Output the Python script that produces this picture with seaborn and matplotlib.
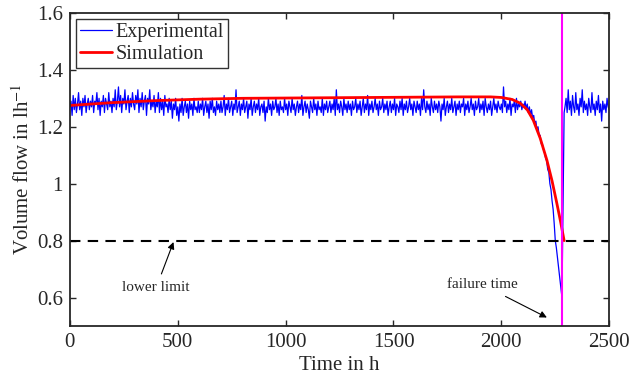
import numpy as np
import seaborn as sns
import matplotlib.pyplot as plt
from matplotlib.ticker import FuncFormatter

# experimental volume flow, one value every 5 h starting at 0 h
exp_steady = [
    1.27, 1.29, 1.24, 1.31, 1.26, 1.30, 1.25, 1.28, 1.32, 1.26, 1.29, 1.24, 1.30, 1.27, 1.31, 1.25, 1.28, 1.30, 1.26, 1.29,
    1.27, 1.31, 1.25, 1.29, 1.28, 1.32, 1.26, 1.30, 1.24, 1.29, 1.27, 1.31, 1.25, 1.30, 1.28, 1.26, 1.32, 1.27, 1.29, 1.25,
    1.30, 1.27, 1.33, 1.26, 1.29, 1.34, 1.27, 1.31, 1.25, 1.30, 1.28, 1.33, 1.26, 1.29, 1.31, 1.25, 1.30, 1.27, 1.32, 1.28,
    1.26, 1.31, 1.28, 1.33, 1.25, 1.30, 1.27, 1.32, 1.26, 1.29, 1.31, 1.24, 1.30, 1.28, 1.33, 1.26, 1.29, 1.27, 1.31, 1.25,
    1.29, 1.27, 1.32, 1.25, 1.30, 1.26, 1.29, 1.24, 1.31, 1.27, 1.28, 1.25, 1.30, 1.26, 1.29, 1.23, 1.28, 1.26, 1.30, 1.24,
    1.27, 1.22, 1.28, 1.25, 1.30, 1.24, 1.27, 1.29, 1.25, 1.28, 1.23, 1.29, 1.26, 1.28, 1.24, 1.30, 1.26, 1.27, 1.25, 1.29,
    1.25, 1.28, 1.26, 1.30, 1.24, 1.27, 1.29, 1.25, 1.28, 1.23, 1.29, 1.26, 1.30, 1.25, 1.27, 1.24, 1.29, 1.26, 1.28, 1.25,
    1.29, 1.25, 1.27, 1.31, 1.24, 1.28, 1.26, 1.30, 1.25, 1.27, 1.29, 1.24, 1.28, 1.26, 1.33, 1.25, 1.27, 1.29, 1.24, 1.28,
    1.26, 1.30, 1.25, 1.27, 1.29, 1.23, 1.28, 1.26, 1.30, 1.24, 1.27, 1.29, 1.25, 1.28, 1.26, 1.30, 1.24, 1.27, 1.28, 1.25,
    1.29, 1.22, 1.27, 1.25, 1.30, 1.26, 1.28, 1.24, 1.29, 1.26, 1.27, 1.30, 1.25, 1.28, 1.24, 1.29, 1.26, 1.27, 1.25, 1.30,
    1.26, 1.28, 1.24, 1.29, 1.27, 1.25, 1.30, 1.26, 1.28, 1.24, 1.27, 1.29, 1.25, 1.28, 1.26, 1.31, 1.24, 1.27, 1.29, 1.25,
    1.28, 1.26, 1.23, 1.29, 1.27, 1.25, 1.30, 1.26, 1.28, 1.24, 1.29, 1.26, 1.27, 1.25, 1.30, 1.24, 1.28, 1.26, 1.29, 1.25,
    1.27, 1.29, 1.25, 1.28, 1.26, 1.30, 1.24, 1.33, 1.26, 1.28, 1.25, 1.29, 1.27, 1.24, 1.30, 1.26, 1.28, 1.25, 1.29, 1.26,
    1.28, 1.24, 1.29, 1.26, 1.27, 1.30, 1.25, 1.28, 1.26, 1.29, 1.24, 1.27, 1.30, 1.25, 1.28, 1.26, 1.31, 1.24, 1.28, 1.26,
    1.29, 1.25, 1.27, 1.30, 1.26, 1.28, 1.24, 1.29, 1.26, 1.27, 1.30, 1.25, 1.28, 1.26, 1.29, 1.24, 1.27, 1.29, 1.25, 1.28,
    1.26, 1.30, 1.24, 1.28, 1.27, 1.25, 1.29, 1.26, 1.30, 1.24, 1.28, 1.26, 1.29, 1.25, 1.27, 1.30, 1.26, 1.28, 1.24, 1.29,
    1.27, 1.25, 1.29, 1.26, 1.28, 1.24, 1.30, 1.26, 1.33, 1.27, 1.25, 1.29, 1.26, 1.28, 1.24, 1.30, 1.27, 1.25, 1.29, 1.26,
    1.28, 1.25, 1.29, 1.27, 1.22, 1.28, 1.26, 1.30, 1.24, 1.27, 1.29, 1.25, 1.28, 1.26, 1.30, 1.25, 1.27, 1.29, 1.24, 1.28,
    1.26, 1.29, 1.25, 1.28, 1.27, 1.30, 1.24, 1.28, 1.26, 1.29, 1.25, 1.27, 1.30, 1.26, 1.28, 1.24, 1.29, 1.26, 1.27, 1.30,
    1.25, 1.28, 1.26, 1.29, 1.24, 1.30, 1.27, 1.25, 1.28, 1.26, 1.29, 1.24, 1.27, 1.30, 1.26, 1.28, 1.25, 1.29, 1.27, 1.26,
    1.28, 1.25, 1.34, 1.27, 1.29, 1.25, 1.28, 1.26, 1.30, 1.24, 1.28, 1.27, 1.29, 1.25, 1.30, 1.26, 1.28, 1.27, 1.29, 1.26,
    1.28, 1.27, 1.29, 1.26, 1.28, 1.25, 1.27, 1.24, 1.26, 1.23, 1.24, 1.21, 1.22, 1.19, 1.20, 1.17, 1.17, 1.14, 1.14, 1.12,
    1.11, 1.09, 1.08, 1.05, 1.04, 1.00, 0.98, 0.94, 0.91, 0.86,
]
# drop below the limit, failure and restart
fail_t = [2250, 2255, 2281, 2291]
fail_v = [0.80, 0.775, 0.60, 1.25]
# after restart, one value every 5 h from 2295 h to 2500 h
exp_after = [
    1.27, 1.30, 1.25, 1.33, 1.26, 1.29, 1.24, 1.31, 1.27, 1.25,
    1.32, 1.26, 1.28, 1.24, 1.30, 1.27, 1.33, 1.25, 1.29, 1.26,
    1.28, 1.24, 1.30, 1.27, 1.25, 1.32, 1.26, 1.28, 1.24, 1.29,
    1.26, 1.31, 1.25, 1.28, 1.22, 1.29, 1.26, 1.28, 1.25, 1.30,
    1.27, 1.26,
]

sim_t = [0, 200, 400, 600, 800, 1000, 1200, 1400, 1600, 1800, 1950, 2000,
         2050, 2087, 2120, 2148, 2180, 2211, 2235, 2257, 2275, 2291]
sim_v = [1.275, 1.285, 1.292, 1.297, 1.300, 1.301, 1.302, 1.303, 1.304, 1.305,
         1.305, 1.303, 1.296, 1.283, 1.26, 1.223, 1.16, 1.083, 1.01, 0.932,
         0.865, 0.80]

lower_limit = 0.8
failure_time = 2280

exp_t = (list(np.arange(len(exp_steady)) * 5) + fail_t
         + list(2295 + np.arange(len(exp_after)) * 5))
exp_v = exp_steady + fail_v + exp_after

sns.set_style("ticks")
plt.rcParams['font.family'] = ['Liberation Serif', 'DejaVu Serif']
plt.rcParams['mathtext.fontset'] = 'stix'

fig = plt.figure(figsize=(6.3, 3.8), dpi=100)
ax = fig.add_axes([0.111, 0.142, 0.856, 0.824])

sns.lineplot(x=exp_t, y=exp_v, ax=ax, color='#0000ff', lw=0.9,
             estimator=None, sort=False, label='Experimental')
sns.lineplot(x=sim_t, y=sim_v, ax=ax, color='#ff0000', lw=2,
             estimator=None, sort=False, label='Simulation')
ax.axhline(lower_limit, color='black', lw=1.5, ls=(0, (5, 3.5)))
ax.axvline(failure_time, color='#ff00ff', lw=1.5)

ax.annotate('lower limit', xy=(480, 0.795), xytext=(400, 0.635),
            ha='center', va='center', fontsize=11,
            arrowprops=dict(arrowstyle='-|>', color='black', lw=0.8,
                            shrinkA=3, shrinkB=0, mutation_scale=10))
ax.annotate('failure time', xy=(2211, 0.53), xytext=(1913, 0.645),
            ha='center', va='center', fontsize=11,
            arrowprops=dict(arrowstyle='-|>', color='black', lw=0.8,
                            shrinkA=3, shrinkB=0, mutation_scale=10))

ax.set_xlim(0, 2500)
ax.set_ylim(0.5, 1.6)
ax.set_xticks([0, 500, 1000, 1500, 2000, 2500])
ax.set_yticks([0.6, 0.8, 1.0, 1.2, 1.4, 1.6])
ax.yaxis.set_major_formatter(FuncFormatter(lambda v, p: f"{v:g}"))
ax.tick_params(direction='in', top=True, right=True, labelsize=15,
               length=4, width=1, pad=5)
for s in ax.spines.values():
    s.set_linewidth(1.3)
    s.set_visible(True)

ax.set_xlabel('Time in h', fontsize=15, labelpad=3)
ax.set_ylabel('Volume flow in lh$^{-1}$', fontsize=15, labelpad=2)

leg = ax.legend(loc='upper left', fontsize=14.5, frameon=True, fancybox=False,
                borderpad=0.2, labelspacing=0.15, handlelength=1.6,
                handletextpad=0.15, borderaxespad=0.3)
leg.get_frame().set_edgecolor('black')
leg.get_frame().set_linewidth(1)

fig.savefig('out.png', dpi=100)
